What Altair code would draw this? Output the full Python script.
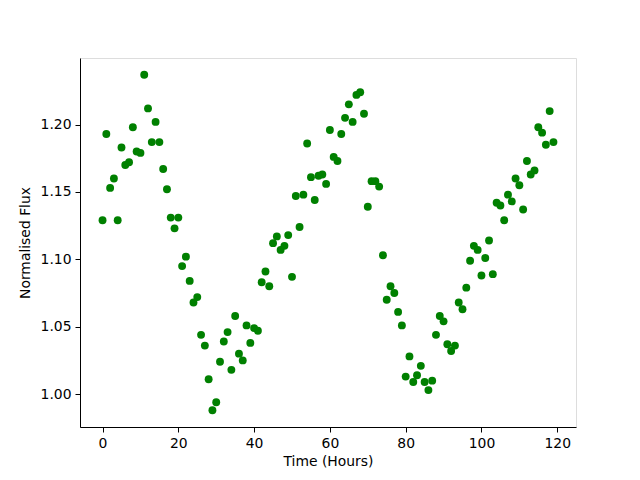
import altair as alt
import pandas as pd

hours = list(range(120))
flux = [
    1.129, 1.193, 1.153, 1.160, 1.129, 1.183, 1.170, 1.172, 1.198, 1.180,
    1.179, 1.237, 1.212, 1.187, 1.202, 1.187, 1.167, 1.152, 1.131, 1.123,
    1.131, 1.095, 1.102, 1.084, 1.068, 1.072, 1.044, 1.036, 1.011, 0.988,
    0.994, 1.024, 1.039, 1.046, 1.018, 1.058, 1.030, 1.025, 1.051, 1.038,
    1.049, 1.047, 1.083, 1.091, 1.080, 1.112, 1.117, 1.107, 1.110, 1.118,
    1.087, 1.147, 1.124, 1.148, 1.186, 1.161, 1.144, 1.162, 1.163, 1.156,
    1.196, 1.176, 1.173, 1.193, 1.205, 1.215, 1.202, 1.222, 1.224, 1.208,
    1.139, 1.158, 1.158, 1.154, 1.103, 1.070, 1.080, 1.075, 1.061, 1.051,
    1.013, 1.028, 1.009, 1.014, 1.021, 1.009, 1.003, 1.010, 1.044, 1.058,
    1.054, 1.037, 1.032, 1.036, 1.068, 1.063, 1.079, 1.099, 1.110, 1.107,
    1.088, 1.101, 1.114, 1.089, 1.142, 1.140, 1.129, 1.148, 1.143, 1.160,
    1.155, 1.137, 1.173, 1.163, 1.166, 1.198, 1.194, 1.185, 1.210, 1.187,
]
x_ticks = [0, 20, 40, 60, 80, 100, 120]
y_ticks = [1.00, 1.05, 1.10, 1.15, 1.20]

df = pd.DataFrame({"Time": hours, "Flux": flux})

axis_common = dict(
    grid=False,
    domainColor="black",
    tickColor="black",
    tickSize=5,
    tickWidth=1,
    labelFont="DejaVu Sans",
    labelFontSize=13.9,
    labelColor="black",
    labelPadding=4,
    titleFont="DejaVu Sans",
    titleFontSize=13.9,
    titleFontWeight="normal",
    titleColor="black",
)

chart = alt.Chart(df).mark_circle(size=62, opacity=1, color="#008000").encode(
    x=alt.X("Time:Q", title="Time (Hours)",
            scale=alt.Scale(domain=[-5.95, 124.95], nice=False, zero=False),
            axis=alt.Axis(values=x_ticks, format="d", titlePadding=5, **axis_common)),
    y=alt.Y("Flux:Q", title="Normalised Flux",
            scale=alt.Scale(domain=[0.9756, 1.2494], nice=False, zero=False),
            axis=alt.Axis(values=y_ticks, format=".2f", titlePadding=8, **axis_common)),
).properties(
    width=496,
    height=369,
    autosize=alt.AutoSizeParams(type="none"),
    padding={"left": 72, "top": 50, "right": 56, "bottom": 45},
).configure_view(
    stroke="black",
    strokeWidth=1,
).configure(background="white")

chart.save("out.html", embed_options={"renderer": "svg", "actions": False})
